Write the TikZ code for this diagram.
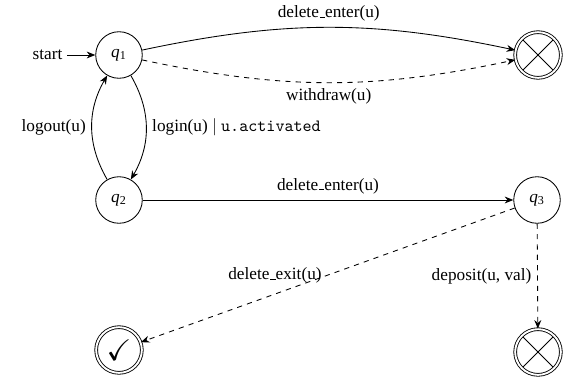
\documentclass[tikz,border=0pt]{standalone}
\usepackage{amssymb}
\usepackage{fontspec}
\setmainfont{Liberation Serif}
\usetikzlibrary{arrows.meta}
\newcommand\usc{\leavevmode\kern.06em\vbox{\hrule width.3em}}
\tikzset{
  st/.style={circle,draw,line width=0.5pt,minimum size=27pt,inner sep=0pt},
  fin/.style={circle,draw,line width=0.5pt,double,double distance=1.1pt,minimum size=26.5pt,inner sep=0pt},
  crossfin/.style={fin,path picture={
     \draw[line width=0.5pt] (path picture bounding box.north west) -- (path picture bounding box.south east);
     \draw[line width=0.5pt] (path picture bounding box.north east) -- (path picture bounding box.south west);}},
  tr/.style={line width=0.5pt,-{Stealth[length=5pt,width=4pt]}},
}
\begin{document}
\begin{tikzpicture}[x=0.58pt,y=-0.58pt]
\useasboundingbox (0,0) rectangle (566,379);
\node[st] (q1) at (119,55) {\textit{q}\textsubscript{1}};
\node[st] (q2) at (119,200) {\textit{q}\textsubscript{2}};
\node[st] (q3) at (537,200) {\textit{q}\textsubscript{3}};
\node[crossfin] (x1) at (538,55) {};
\node[crossfin] (x2) at (538,352) {};
\node[fin] (ok) at (119,350) {\LARGE$\checkmark$};
\node[anchor=east,inner sep=2.5pt] (start) at (67,55) {start};

\draw[tr] (start) -- (q1);
\draw[tr] (q1) to[bend left=12] node[above] {delete\usc enter(u)} (x1);
\draw[tr,dashed] (q1) to[bend right=12] node[below] {withdraw(u)} (x1);
\draw[tr] (q1) to[bend left=30] node[right] {login(u) $|$ \texttt{u.activated}} (q2);
\draw[tr] (q2) to[bend left=30] node[left] {logout(u)} (q1);
\draw[tr] (q2) -- node[above] {delete\usc enter(u)} (q3);
\draw[tr,dashed] (q3) -- node[left] {delete\usc exit(u)} (ok);
\draw[tr,dashed] (q3) -- node[left] {deposit(u, val)} (x2);
\end{tikzpicture}
\end{document}
